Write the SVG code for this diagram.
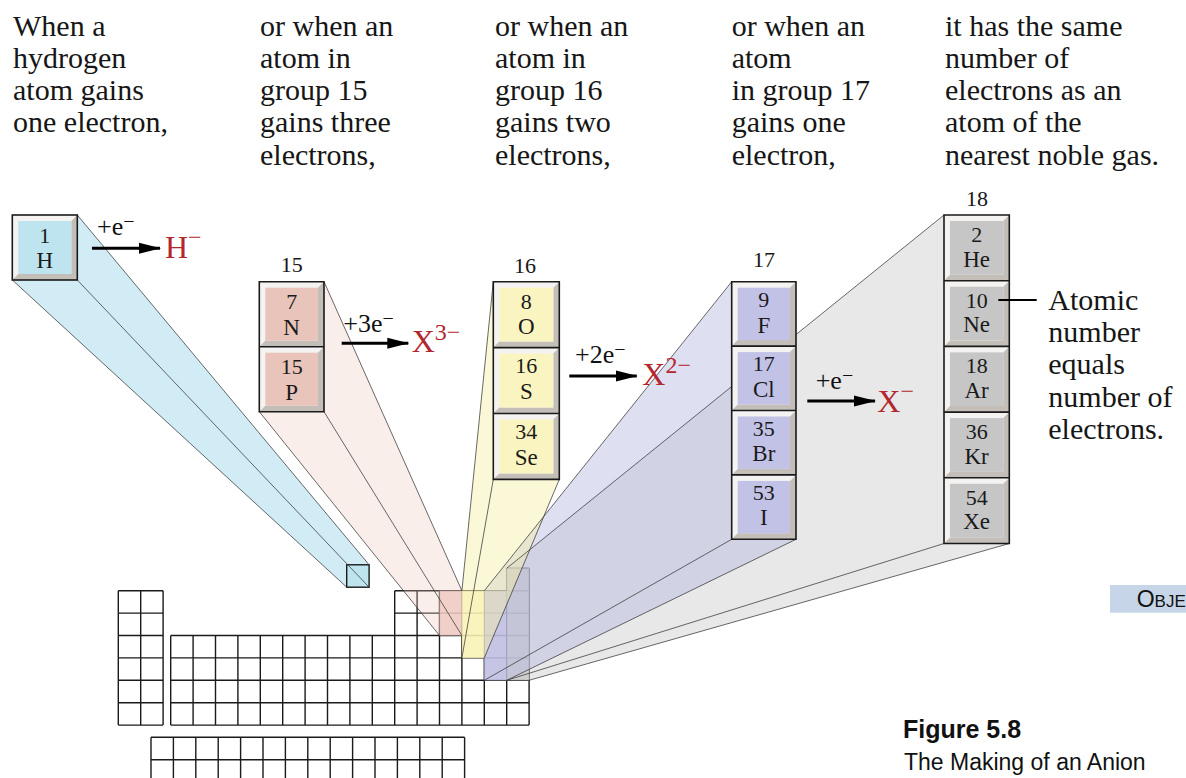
<svg xmlns="http://www.w3.org/2000/svg" width="1186" height="778" viewBox="0 0 1186 778">
<style>
.txt{font-family:"Liberation Serif","Times New Roman",serif;font-size:30px;fill:#161616}
.grp{font-family:"Liberation Serif","Times New Roman",serif;font-size:22px;fill:#161616;text-anchor:middle}
.num{font-family:"Liberation Serif","Times New Roman",serif;font-size:22px;fill:#1a1a1a;text-anchor:middle}
.sym{font-family:"Liberation Serif","Times New Roman",serif;font-size:23px;fill:#1a1a1a;text-anchor:middle}
.eq{font-family:"Liberation Serif","Times New Roman",serif;font-size:26px;fill:#111}
.ion{font-family:"Liberation Serif","Times New Roman",serif;font-size:32px;fill:#b3262d}
.tl{fill:#f4f3f1}
.br{fill:#c4beb8}
.edge{fill:none;stroke:#1a1a1a;stroke-width:1.6}
.grid{fill:none;stroke:#1a1a1a;stroke-width:1.4}
.bl{fill:none;stroke:#3a3a3a;stroke-width:0.9;stroke-opacity:0.85}
.arrow{stroke:#000;stroke-width:3;fill:none;marker-end:url(#ah)}
.cap{font-family:"Liberation Sans",Arial,sans-serif;fill:#111}
</style>
<defs>
<marker id="ah" markerUnits="userSpaceOnUse" markerWidth="22" markerHeight="12" refX="21" refY="6" orient="auto">
<path d="M0,0.5 L22,6 L0,11.5 Z" fill="#000"/>
</marker>
</defs>
<rect width="1186" height="778" fill="#fff"/>

<g id="captions">
<text class="txt"><tspan x="13" y="35.5">When a</tspan><tspan x="13" y="67.8">hydrogen</tspan><tspan x="13" y="100.1">atom gains</tspan><tspan x="13" y="132.4">one electron,</tspan></text>
<text class="txt"><tspan x="260" y="35.5">or when an</tspan><tspan x="260" y="67.8">atom in</tspan><tspan x="260" y="100.1">group 15</tspan><tspan x="260" y="132.4">gains three</tspan><tspan x="260" y="164.7">electrons,</tspan></text>
<text class="txt"><tspan x="495" y="35.5">or when an</tspan><tspan x="495" y="67.8">atom in</tspan><tspan x="495" y="100.1">group 16</tspan><tspan x="495" y="132.4">gains two</tspan><tspan x="495" y="164.7">electrons,</tspan></text>
<text class="txt"><tspan x="731.7" y="35.5">or when an</tspan><tspan x="731.7" y="67.8">atom</tspan><tspan x="731.7" y="100.1">in group 17</tspan><tspan x="731.7" y="132.4">gains one</tspan><tspan x="731.7" y="164.7">electron,</tspan></text>
<text class="txt"><tspan x="945" y="35.5">it has the same</tspan><tspan x="945" y="67.8">number of</tspan><tspan x="945" y="100.1">electrons as an</tspan><tspan x="945" y="132.4">atom of the</tspan><tspan x="945" y="164.7">nearest noble gas.</tspan></text>
</g>

<g id="periodic-table">
<path class="grid" d="M118.3,590.7V725.1M140.7,590.7V725.1M163.1,590.7V725.1M118.3,590.7H163.1M118.3,613.1H163.1M118.3,635.5H163.1M118.3,657.9H163.1M118.3,680.3H163.1M118.3,702.7H163.1M118.3,725.1H163.1"/>
<path class="grid" d="M170.7,635.5V725.1M193.1,635.5V725.1M215.5,635.5V725.1M237.9,635.5V725.1M260.3,635.5V725.1M282.7,635.5V725.1M305.1,635.5V725.1M327.5,635.5V725.1M349.9,635.5V725.1M372.3,635.5V725.1M170.7,635.5H529.1M170.7,657.9H529.1M170.7,680.3H529.1M170.7,702.7H529.1M170.7,725.1H529.1"/>
<path class="grid" d="M394.7,590.7V725.1M417.1,590.7V725.1M439.5,590.7V725.1M461.9,590.7V725.1M484.3,590.7V725.1M506.7,568.3V725.1M529.1,568.3V725.1M394.7,590.7H529.1M394.7,613.1H529.1M506.7,568.3H529.1"/>
<path class="grid" d="M151,737.3V782M173.4,737.3V782M195.8,737.3V782M218.2,737.3V782M240.6,737.3V782M263,737.3V782M285.4,737.3V782M307.8,737.3V782M330.2,737.3V782M352.6,737.3V782M375,737.3V782M397.4,737.3V782M419.8,737.3V782M442.2,737.3V782M464.6,737.3V782M151,737.3H464.6M151,759.7H464.6"/>
<rect x="439.5" y="590.7" width="22.4" height="44.8" fill="#f0cbc4" fill-opacity="0.8"/>
<rect x="461.9" y="590.7" width="22.4" height="67.2" fill="#faf5c4" fill-opacity="0.8"/>
<rect x="484.3" y="590.7" width="22.4" height="89.6" fill="#c5c4e4" fill-opacity="0.8"/>
<rect x="506.7" y="568.3" width="22.4" height="112" fill="#c9c9cc" fill-opacity="0.8"/>
<rect x="346.7" y="564.8" width="22.4" height="22.4" fill="#b3deeb"/>
</g>

<g id="beams">
<polygon points="944,215 1009.3,215 1009.3,543.5 529.1,680.3 506.7,680.3 506.7,568.3" fill="#c8c8c8" fill-opacity="0.42"/>
<polygon points="731.7,281.7 796,281.7 796,539.3 506.7,680.3 484.3,680.3 484.3,590.7" fill="#b9b9e2" fill-opacity="0.45"/>
<polygon points="493.3,281.7 559.3,281.7 559.3,479.4 484.3,657.9 461.9,657.9 461.9,590.7" fill="#f7efa6" fill-opacity="0.45"/>
<polygon points="259.3,281.7 324,281.7 461.9,590.7 461.9,635.5 439.5,635.5 259.3,411.7" fill="#f0c6bd" fill-opacity="0.3"/>
<polygon points="12.3,215 77.3,215 369.1,564.8 369.1,587.2 346.7,587.2 12.3,280" fill="#c2e6f2" fill-opacity="0.75"/>
<rect x="346.7" y="564.8" width="22.4" height="22.4" fill="none" stroke="#1a1a1a" stroke-width="1.4"/>
<path class="bl" d="M944,215L506.7,568.3M944,543.5L506.7,680.3M1009.3,543.5L529.1,680.3"/>
<path class="bl" d="M731.7,281.7L484.3,590.7M731.7,539.3L484.3,680.3M796,539.3L506.7,680.3"/>
<path class="bl" d="M493.3,281.7L461.9,590.7M493.3,479.4L461.9,657.9M559.3,479.4L484.3,657.9"/>
<path class="bl" d="M324,281.7L461.9,590.7M259.3,411.7L439.5,635.5M324,411.7L461.9,635.5"/>
<path class="bl" d="M77.3,215L369.1,564.8M12.3,280L346.7,587.2M77.3,280L369.1,587.2"/>
</g>

<g id="box-H" transform="translate(12.3,215)">
<rect class="tl" width="65" height="65"/><polygon class="br" points="65,0 65,65 0,65 6,59 59,59 59,6"/><rect x="6" y="6" width="53" height="53" fill="#bde4ef"/>
<text class="num" x="32.5" y="28">1</text><text class="sym" x="32.5" y="53">H</text>
<rect class="edge" width="65" height="65"/>
</g>

<g id="group15-box">
<text class="grp" x="291.7" y="272">15</text>
<g transform="translate(259.3,281.7)">
<rect class="tl" width="64.7" height="65"/><polygon class="br" points="64.7,0 64.7,65 0,65 6,59 58.7,59 58.7,6"/><rect x="6" y="6" width="52.7" height="53" fill="#e8c4bb"/>
<text class="num" x="32.35" y="27.5">7</text><text class="sym" x="32.35" y="53">N</text>
</g>
<g transform="translate(259.3,346.7)">
<rect class="tl" width="64.7" height="65"/><polygon class="br" points="64.7,0 64.7,65 0,65 6,59 58.7,59 58.7,6"/><rect x="6" y="6" width="52.7" height="53" fill="#e8c4bb"/>
<text class="num" x="32.35" y="27.5">15</text><text class="sym" x="32.35" y="53">P</text>
</g>
<path class="edge" d="M259.3,281.7h64.7v130h-64.7zM259.3,346.7h64.7"/>
</g>

<g id="group16-box">
<text class="grp" x="525" y="273">16</text>
<g transform="translate(493.3,281.7)">
<rect class="tl" width="66" height="65.9"/><polygon class="br" points="66,0 66,65.9 0,65.9 6,59.9 60,59.9 60,6"/><rect x="6" y="6" width="54" height="53.9" fill="#faf5c0"/>
<text class="num" x="33" y="27">8</text><text class="sym" x="33" y="52">O</text>
</g>
<g transform="translate(493.3,347.6)">
<rect class="tl" width="66" height="65.9"/><polygon class="br" points="66,0 66,65.9 0,65.9 6,59.9 60,59.9 60,6"/><rect x="6" y="6" width="54" height="53.9" fill="#faf5c0"/>
<text class="num" x="33" y="25.5">16</text><text class="sym" x="33" y="51">S</text>
</g>
<g transform="translate(493.3,413.5)">
<rect class="tl" width="66" height="65.9"/><polygon class="br" points="66,0 66,65.9 0,65.9 6,59.9 60,59.9 60,6"/><rect x="6" y="6" width="54" height="53.9" fill="#faf5c0"/>
<text class="num" x="33" y="25.5">34</text><text class="sym" x="33" y="51">Se</text>
</g>
<path class="edge" d="M493.3,281.7h66v197.7h-66zM493.3,347.6h66M493.3,413.5h66"/>
</g>

<g id="group17-box">
<text class="grp" x="764" y="266.7">17</text>
<g transform="translate(731.7,281.7)">
<rect class="tl" width="64.3" height="64.4"/><polygon class="br" points="64.3,0 64.3,64.4 0,64.4 6,58.4 58.3,58.4 58.3,6"/><rect x="6" y="6" width="52.3" height="52.4" fill="#c2c1e6"/>
<text class="num" x="32.15" y="25.5">9</text><text class="sym" x="32.15" y="51">F</text>
</g>
<g transform="translate(731.7,346.1)">
<rect class="tl" width="64.3" height="64.4"/><polygon class="br" points="64.3,0 64.3,64.4 0,64.4 6,58.4 58.3,58.4 58.3,6"/><rect x="6" y="6" width="52.3" height="52.4" fill="#c2c1e6"/>
<text class="num" x="32.15" y="25">17</text><text class="sym" x="32.15" y="50.5">Cl</text>
</g>
<g transform="translate(731.7,410.5)">
<rect class="tl" width="64.3" height="64.4"/><polygon class="br" points="64.3,0 64.3,64.4 0,64.4 6,58.4 58.3,58.4 58.3,6"/><rect x="6" y="6" width="52.3" height="52.4" fill="#c2c1e6"/>
<text class="num" x="32.15" y="25">35</text><text class="sym" x="32.15" y="50.5">Br</text>
</g>
<g transform="translate(731.7,474.9)">
<rect class="tl" width="64.3" height="64.4"/><polygon class="br" points="64.3,0 64.3,64.4 0,64.4 6,58.4 58.3,58.4 58.3,6"/><rect x="6" y="6" width="52.3" height="52.4" fill="#c2c1e6"/>
<text class="num" x="32.15" y="25">53</text><text class="sym" x="32.15" y="50.5">I</text>
</g>
<path class="edge" d="M731.7,281.7h64.3v257.6h-64.3zM731.7,346.1h64.3M731.7,410.5h64.3M731.7,474.9h64.3"/>
</g>

<g id="group18-box">
<text class="grp" x="977" y="206">18</text>
<g transform="translate(944,215)">
<rect class="tl" width="65.3" height="65.7"/><polygon class="br" points="65.3,0 65.3,65.7 0,65.7 6,59.7 59.3,59.7 59.3,6"/><rect x="6" y="6" width="53.3" height="53.7" fill="#c6c6c6"/>
<text class="num" x="32.65" y="26.5">2</text><text class="sym" x="32.65" y="51.5">He</text>
</g>
<g transform="translate(944,280.7)">
<rect class="tl" width="65.3" height="65.7"/><polygon class="br" points="65.3,0 65.3,65.7 0,65.7 6,59.7 59.3,59.7 59.3,6"/><rect x="6" y="6" width="53.3" height="53.7" fill="#c6c6c6"/>
<text class="num" x="32.65" y="27">10</text><text class="sym" x="32.65" y="51.5">Ne</text>
</g>
<g transform="translate(944,346.4)">
<rect class="tl" width="65.3" height="65.7"/><polygon class="br" points="65.3,0 65.3,65.7 0,65.7 6,59.7 59.3,59.7 59.3,6"/><rect x="6" y="6" width="53.3" height="53.7" fill="#c6c6c6"/>
<text class="num" x="32.65" y="27">18</text><text class="sym" x="32.65" y="51.5">Ar</text>
</g>
<g transform="translate(944,412.1)">
<rect class="tl" width="65.3" height="65.7"/><polygon class="br" points="65.3,0 65.3,65.7 0,65.7 6,59.7 59.3,59.7 59.3,6"/><rect x="6" y="6" width="53.3" height="53.7" fill="#c6c6c6"/>
<text class="num" x="32.65" y="27">36</text><text class="sym" x="32.65" y="51.5">Kr</text>
</g>
<g transform="translate(944,477.8)">
<rect class="tl" width="65.3" height="65.7"/><polygon class="br" points="65.3,0 65.3,65.7 0,65.7 6,59.7 59.3,59.7 59.3,6"/><rect x="6" y="6" width="53.3" height="53.7" fill="#c6c6c6"/>
<text class="num" x="32.65" y="27">54</text><text class="sym" x="32.65" y="51.5">Xe</text>
</g>
<path class="edge" d="M944,215h65.3v328.5h-65.3zM944,280.7h65.3M944,346.4h65.3M944,412.1h65.3M944,477.8h65.3"/>
</g>

<g id="note">
<text class="txt"><tspan x="1048.3" y="310">Atomic</tspan><tspan x="1048.3" y="342.2">number</tspan><tspan x="1048.3" y="374.4">equals</tspan><tspan x="1048.3" y="406.6">number of</tspan><tspan x="1048.3" y="438.8">electrons.</tspan></text>
</g>

<g id="connectors">
<line x1="998.3" y1="300" x2="1036.7" y2="300" stroke="#000" stroke-width="2"/>
<line class="arrow" x1="92" y1="248.3" x2="160" y2="248.3"/>
<line class="arrow" x1="341.7" y1="343.3" x2="408.3" y2="343.3"/>
<line class="arrow" x1="569.3" y1="376" x2="636.7" y2="376"/>
<line class="arrow" x1="807.3" y1="401" x2="875" y2="401"/>
</g>

<g id="reactions">
<text class="eq" x="97" y="235">+e<tspan dy="-7" font-size="20">−</tspan></text>
<text class="ion" x="165" y="258.3">H<tspan dy="-13" font-size="24">−</tspan></text>
<text class="eq" x="343.3" y="331.7">+3e<tspan dy="-7" font-size="20">−</tspan></text>
<text class="ion" x="411.7" y="351.7">X<tspan dy="-12" font-size="24">3−</tspan></text>
<text class="eq" x="575" y="362.7">+2e<tspan dy="-7" font-size="20">−</tspan></text>
<text class="ion" x="642.3" y="385">X<tspan dy="-12" font-size="24">2−</tspan></text>
<text class="eq" x="815.7" y="389.3">+e<tspan dy="-7" font-size="20">−</tspan></text>
<text class="ion" x="877.3" y="411.7">X<tspan dy="-13" font-size="24">−</tspan></text>
</g>

<g id="objectives-tab">
<rect x="1110" y="585" width="80" height="27.7" fill="#c6d6e8"/>
<text class="cap" x="1136.7" y="607.3" font-size="23">O<tspan font-size="17">BJE</tspan></text>
</g>

<g id="figure-caption">
<text class="cap" x="903" y="738" font-size="25" font-weight="bold">Figure 5.8</text>
<text class="cap" x="904" y="770" font-size="23">The Making of an Anion</text>
</g>
</svg>
